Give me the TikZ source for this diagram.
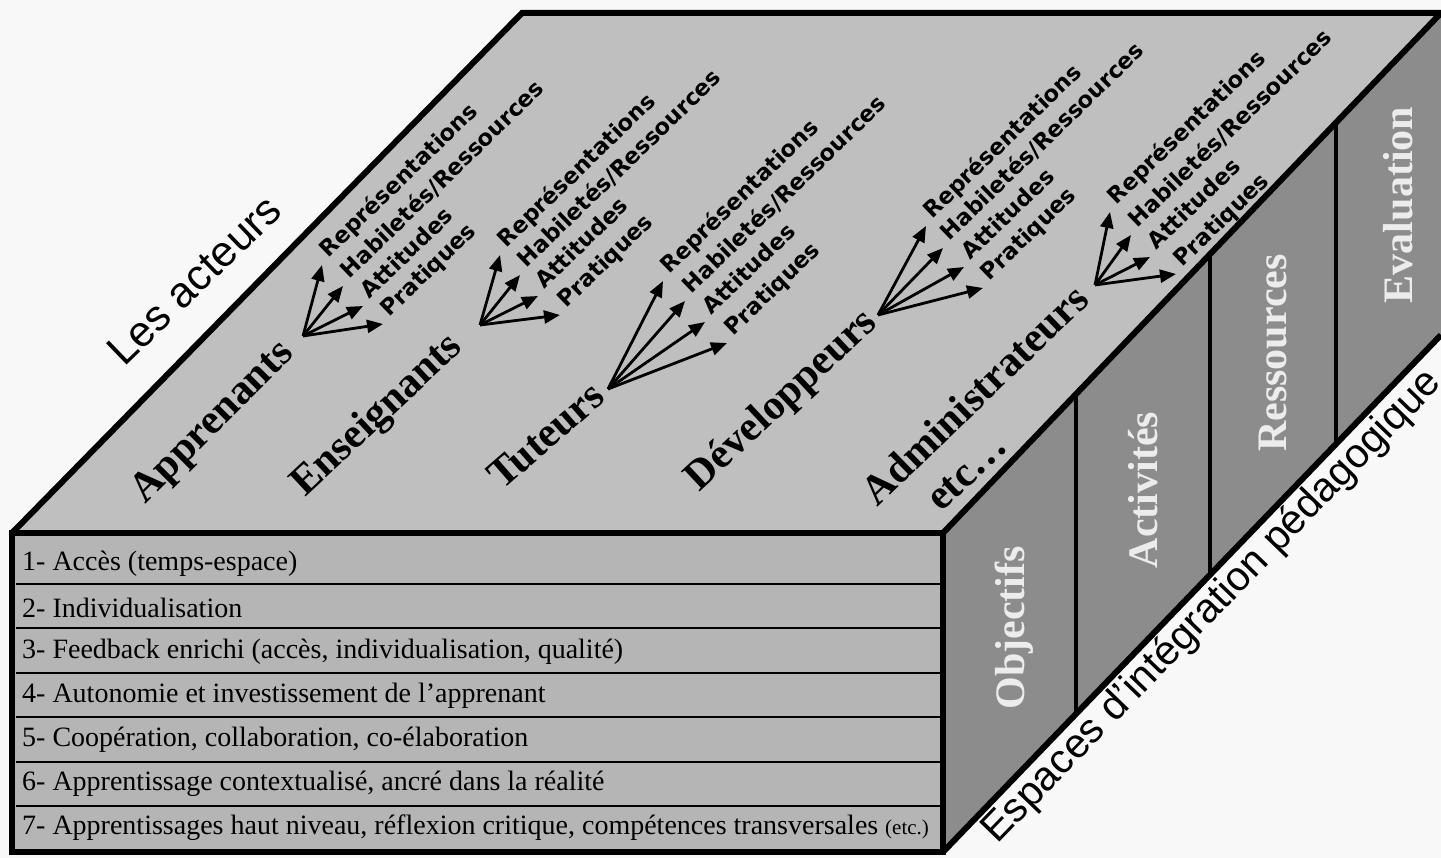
\documentclass[tikz,border=0pt]{standalone}
\usepackage{fontspec}
\setmainfont{Liberation Serif}
\newfontfamily\lsans{Liberation Sans}
\newfontfamily\dvs{DejaVu Sans}
\usetikzlibrary{arrows.meta}
\definecolor{bg}{RGB}{248,248,248}
\definecolor{topc}{RGB}{191,191,191}
\definecolor{frontc}{RGB}{181,181,181}
\definecolor{sidec}{RGB}{140,140,140}
\definecolor{labc}{RGB}{236,236,236}
\newcommand\fangroup[6]{%
  \coordinate (#1o) at #2;
  \node[sub] (#1r) at #3 {Représentations};
  \node[sub] (#1h) at #4 {Habiletés/Ressources};
  \node[sub] (#1a) at #5 {Attitudes};
  \node[sub] (#1p) at #6 {Pratiques};
  \draw[fan] (#1o) -- (#1r.base west);
  \draw[fan] (#1o) -- (#1h.base west);
  \draw[fan] (#1o) -- (#1a.base west);
  \draw[fan] (#1o) -- (#1p.base west);
}
\begin{document}
\begin{tikzpicture}[x=1pt,y=-1pt,
  edge/.style={line width=6pt, line join=miter},
  divider/.style={line width=4pt},
  rowline/.style={line width=1.6pt},
  actor/.style={font=\fontsize{42}{46}\selectfont\bfseries, anchor=base east, inner sep=0pt},
  sub/.style={font=\dvs\fontsize{22.5}{26}\selectfont\bfseries, rotate=44, anchor=base west, inner xsep=9pt, inner ysep=0pt},
  fan/.style={line width=2.8pt, -{Triangle[length=16pt,width=13pt]}},
  rowtext/.style={anchor=west, font=\fontsize{28}{32}\selectfont, inner sep=0pt},
  spacelab/.style={font=\fontsize{42}{46}\selectfont\bfseries, text=labc, rotate=90, inner sep=0pt},
  biglab/.style={font=\lsans\fontsize{43}{47}\selectfont, inner sep=0pt},
]
\useasboundingbox (0,0) rectangle (1441,858);
\clip (0,0) rectangle (1441,858);
\fill[bg] (0,0) rectangle (1441,858);

% faces
\fill[topc] (12,533) -- (522,13) -- (1440,14) -- (943,533) -- cycle;
\fill[sidec] (943,533) -- (1441,12) -- (1441,335) -- (943,852) -- cycle;
\fill[frontc] (12,533) rectangle (943,852);

% dividers on the right face
\draw[divider] (1076,394) -- (1076,714);
\draw[divider] (1210,254) -- (1210,575);
\draw[divider] (1336,123) -- (1336,444);

% rows of the front face
\foreach \y in {584,628,673,717,762,806} \draw[rowline] (16,\y) -- (940,\y);

% thick edges
\draw[edge] (12,533) -- (522,13) -- (1441,13);
\draw[edge] (1440,14) -- (943,533);
\draw[edge] (12,533) rectangle (943,852);
\draw[edge] (943,852) -- (1441,335);

% front texts
\node[rowtext] (r1) at (22,564) {1- Accès (temps-espace)};
\node[rowtext] (r2) at (22,608) {2- Individualisation};
\node[rowtext] (r3) at (22,652) {3- Feedback enrichi (accès, individualisation, qualité)};
\node[rowtext] (r4) at (22,696) {4- Autonomie et investissement de l’apprenant};
\node[rowtext] (r5) at (22,740) {5- Coopération, collaboration, co-élaboration};
\node[rowtext] (r6) at (22,784) {6- Apprentissage contextualisé, ancré dans la réalité};
\node[rowtext] (r7) at (22,828) {7- Apprentissages haut niveau, réflexion critique, compétences transversales {\fontsize{21}{24}\selectfont(etc.)}};

% right face labels
\node[spacelab] (obj) at (1014,628) {Objectifs};
\node[spacelab] (act) at (1143,490) {Activités};
\node[spacelab] (res) at (1273,353) {Ressources};
\node[spacelab] (eva) at (1398,205) {Evaluation};

% actors
\node[actor, rotate=45] (appr) at (295,355) {Apprenants};
\node[actor, rotate=43] (ens) at (464,349) {Enseignants};
\node[actor, rotate=41] (tut) at (607,400) {Tuteurs};
\node[actor, rotate=43] (dev) at (879,325) {Développeurs};
\node[actor, rotate=44] (adm) at (1091,302) {Administrateurs};
\node[actor, rotate=43, anchor=base west] (etc) at (941,513) {etc…};

\fangroup{g1}{(303,336)}{(322,265)}{(343,286)}{(363,306)}{(383,324)}
\fangroup{g2}{(480,325)}{(500,255)}{(520,275)}{(538,296)}{(560,315)}
\fangroup{g3}{(608,389)}{(663,281)}{(685,301)}{(705,322)}{(727,343)}
\fangroup{g4}{(878,315)}{(926,226)}{(943,248)}{(964,267)}{(983,288)}
\fangroup{g5}{(1095,285)}{(1110,212)}{(1131,235)}{(1150,257)}{(1176,274)}

% side titles
\node[biglab, rotate=44, anchor=base west] (acteurs) at (124,368) {Les acteurs};
\node[biglab, font=\lsans\fontsize{41}{45}\selectfont, rotate=46, anchor=base east] (espaces) at (1443,384) {Espaces d’intégration pédagogique};
\end{tikzpicture}
\end{document}
